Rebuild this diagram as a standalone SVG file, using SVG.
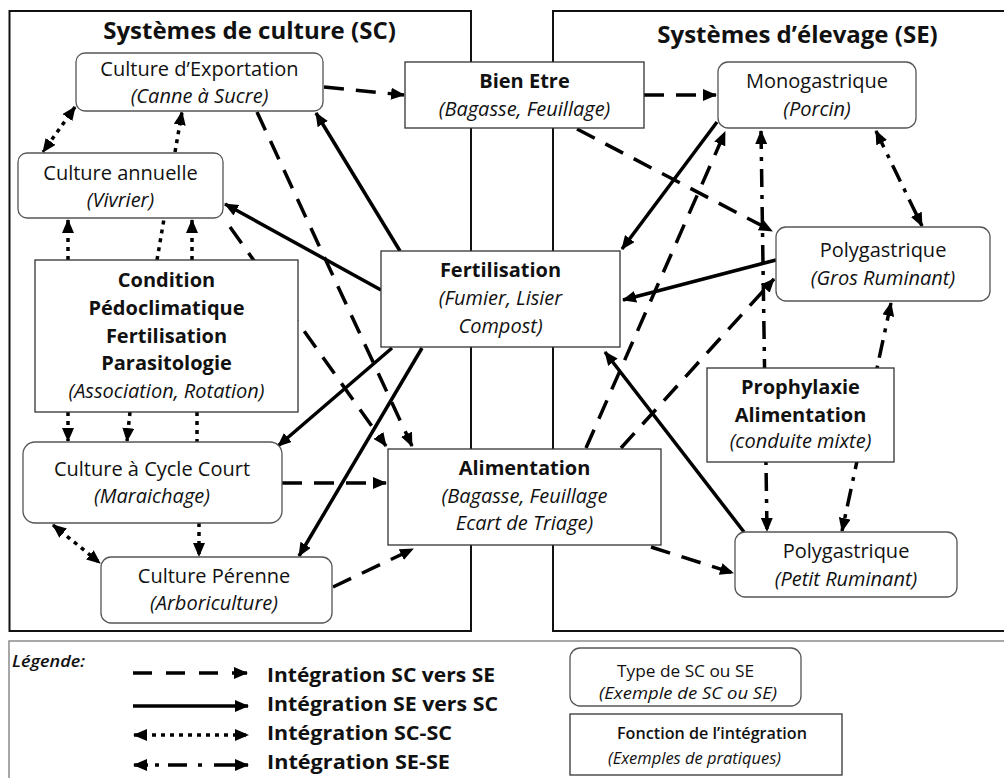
<svg xmlns="http://www.w3.org/2000/svg" width="1004" height="778" viewBox="0 0 1004 778">
<defs>
<style>
.t{font-family:"Open Sans","Liberation Sans",sans-serif;font-size:20px;text-anchor:middle;fill:#111}
.i{font-style:italic}
.b{font-weight:bold}
.ttl{font-family:"Open Sans","Liberation Sans",sans-serif;font-size:24px;font-weight:bold;text-anchor:middle;fill:#111}
.lg{font-family:"Open Sans","Liberation Sans",sans-serif;fill:#111}
.rn{fill:#fff;stroke:#555;stroke-width:1.3}
.bx{fill:#fff;stroke:#333;stroke-width:1.3}
.pn{fill:none;stroke:#111;stroke-width:2}
.c{fill:none;stroke:#000;stroke-width:3.5}
.dash{stroke-dasharray:20 12}
.dot{stroke-dasharray:4 5}
.dd{stroke-dasharray:18 8 4 8}
.e{marker-end:url(#ah)}
.s{marker-start:url(#ah)}
</style>
<marker id="ah" viewBox="0 0 14 12" refX="13" refY="6" markerWidth="14" markerHeight="12" markerUnits="userSpaceOnUse" orient="auto-start-reverse">
<path d="M0,0 L14,6 L0,12 z" fill="#000"/>
</marker>
</defs>
<rect width="1004" height="778" fill="#fff"/>

<g id="panel-sc">
<rect class="pn" x="9.5" y="11" width="461.5" height="620"/>
<text class="ttl" x="249.5" y="39">Systèmes de culture (SC)</text>
</g>
<g id="panel-se">
<rect class="pn" x="553" y="11" width="470" height="620"/>
<text class="ttl" x="797.5" y="43">Systèmes d’élevage (SE)</text>
</g>

<g id="connectors">
<path class="c dash e" d="M324,87 L404,95"/>
<path class="c dash e" d="M644,95 L716,95"/>
<path class="c dash e" d="M577,129 L772,231"/>
<path class="c dash e" d="M257,112 L412,446"/>
<path class="c dash e" d="M230,227 L386,446"/>
<path class="c dash e" d="M282,483 L386,483"/>
<path class="c dash e" d="M333,587 L413,549"/>
<path class="c dash e" d="M586,448 L725,132"/>
<path class="c dash e" d="M621,448 L774,279"/>
<path class="c dash e" d="M651,547 L733,573"/>

<path class="c e" d="M400,251 L316,113"/>
<path class="c e" d="M381,290 L225,204"/>
<path class="c e" d="M717,122 L622,249"/>
<path class="c e" d="M776,260 L623,300"/>
<path class="c e" d="M744,532 L605,352"/>
<path class="c e" d="M392,348 L278,446"/>
<path class="c e" d="M422,348 L299,556"/>

<path class="c dot s e" d="M75,107 L43,152"/>
<path class="c dot e" d="M175,152 L182,112"/>
<path class="c dot e" d="M68,260 L68,220"/>
<path class="c dot" d="M157,260 L164,219"/>
<path class="c dot e" d="M192,260 L192,220"/>
<path class="c dot e" d="M68,412 L68,441"/>
<path class="c dot e" d="M130,412 L127,441"/>
<path class="c dot" d="M197,412 L197,442"/>
<path class="c dot e" d="M199,523 L199,556"/>
<path class="c dot s e" d="M53,525 L100,563"/>

<path class="c dd s e" d="M761,131 L767,531"/>
<path class="c dd s e" d="M876,131 L922,226"/>
<path class="c dd s e" d="M891,303 L842,531"/>
</g>

<g id="n-export">
<rect class="rn" x="76" y="53" width="247" height="58" rx="9"/>
<text class="t" x="199.5" y="76">Culture d’Exportation</text>
<text class="t i" x="199.5" y="103">(Canne à Sucre)</text>
</g>
<g id="n-annuelle">
<rect class="rn" x="18" y="153" width="205" height="65" rx="9"/>
<text class="t" x="120.5" y="180">Culture annuelle</text>
<text class="t i" x="120.5" y="207">(Vivrier)</text>
</g>
<g id="n-condition">
<rect class="bx" x="35" y="260" width="263" height="152"/>
<text class="t b" x="166.5" y="287">Condition</text>
<text class="t b" x="166.5" y="315">Pédoclimatique</text>
<text class="t b" x="166.5" y="342.5">Fertilisation</text>
<text class="t b" x="166.5" y="370">Parasitologie</text>
<text class="t i" x="166.5" y="397.5">(Association, Rotation)</text>
</g>
<g id="n-cyclecourt">
<rect class="rn" x="23" y="442" width="259" height="81" rx="12"/>
<text class="t" x="152" y="476">Culture à Cycle Court</text>
<text class="t i" x="152" y="503">(Maraichage)</text>
</g>
<g id="n-perenne">
<rect class="rn" x="101" y="557" width="231" height="66" rx="10"/>
<text class="t" x="214" y="583">Culture Pérenne</text>
<text class="t i" x="214" y="610">(Arboriculture)</text>
</g>
<g id="n-bienetre">
<rect class="bx" x="405" y="62" width="239" height="66"/>
<text class="t b" x="524.5" y="88">Bien Etre</text>
<text class="t i" x="524.5" y="116">(Bagasse, Feuillage)</text>
</g>
<g id="n-fertilisation">
<rect class="bx" x="381" y="251" width="239" height="96"/>
<text class="t b" x="500.5" y="277">Fertilisation</text>
<text class="t i" x="500.5" y="305">(Fumier, Lisier</text>
<text class="t i" x="500.5" y="333">Compost)</text>
</g>
<g id="n-alimentation">
<rect class="bx" x="388" y="449" width="273" height="96"/>
<text class="t b" x="524.5" y="475">Alimentation</text>
<text class="t i" x="524.5" y="503">(Bagasse, Feuillage</text>
<text class="t i" x="524.5" y="530">Ecart de Triage)</text>
</g>
<g id="n-mono">
<rect class="rn" x="718" y="62" width="198" height="66" rx="10"/>
<text class="t" x="817" y="88">Monogastrique</text>
<text class="t i" x="817" y="116">(Porcin)</text>
</g>
<g id="n-grosruminant">
<rect class="rn" x="776" y="227" width="214" height="74" rx="10"/>
<text class="t" x="883" y="257">Polygastrique</text>
<text class="t i" x="883" y="285">(Gros Ruminant)</text>
</g>
<g id="n-prophylaxie">
<rect class="bx" x="707" y="368" width="187" height="94"/>
<text class="t b" x="800.5" y="394">Prophylaxie</text>
<text class="t b" x="800.5" y="421.5">Alimentation</text>
<text class="t i" x="800.5" y="448">(conduite mixte)</text>
</g>
<g id="n-petitruminant">
<rect class="rn" x="735" y="532" width="222" height="65" rx="10"/>
<text class="t" x="846" y="558">Polygastrique</text>
<text class="t i" x="846" y="586">(Petit Ruminant)</text>
</g>

<g id="legend">
<rect x="9" y="641" width="1010" height="150" fill="none" stroke="#8a8a8a" stroke-width="1.5"/>
<text class="lg i" x="12" y="667" font-size="17" font-weight="600" textLength="73" lengthAdjust="spacingAndGlyphs">Légende:</text>
<path class="c e" stroke-width="4" style="stroke-dasharray:19 14" d="M133,673 L247,673"/>
<path class="c e" stroke-width="4" d="M133,706 L248,706"/>
<path class="c s e" stroke-width="4" style="stroke-dasharray:4 5" d="M134,735 L248,735"/>
<path class="c s e" stroke-width="4" style="stroke-dasharray:14 7 4 9 19 11 4 12 40" d="M134,765 L248,765"/>
<text class="lg b" x="267" y="682" font-size="20" textLength="228" lengthAdjust="spacingAndGlyphs">Intégration SC vers SE</text>
<text class="lg b" x="267" y="711" font-size="20" textLength="231" lengthAdjust="spacingAndGlyphs">Intégration SE vers SC</text>
<text class="lg b" x="267" y="740" font-size="20" textLength="185" lengthAdjust="spacingAndGlyphs">Intégration SC-SC</text>
<text class="lg b" x="267" y="769" font-size="20" textLength="183" lengthAdjust="spacingAndGlyphs">Intégration SE-SE</text>
<rect class="rn" x="570" y="648" width="231" height="58" rx="10"/>
<text class="lg" x="617" y="677" font-size="16.5" textLength="137" lengthAdjust="spacingAndGlyphs">Type de SC ou SE</text>
<text class="lg i" x="599" y="699" font-size="15.5" textLength="178" lengthAdjust="spacingAndGlyphs">(Exemple de SC ou SE)</text>
<rect class="bx" x="570" y="714" width="272" height="61"/>
<text class="lg" x="617" y="739" font-size="17" font-weight="600" textLength="190" lengthAdjust="spacingAndGlyphs">Fonction de l’intégration</text>
<text class="lg i" x="608" y="764" font-size="16" textLength="173" lengthAdjust="spacingAndGlyphs">(Exemples de pratiques)</text>
</g>
</svg>
